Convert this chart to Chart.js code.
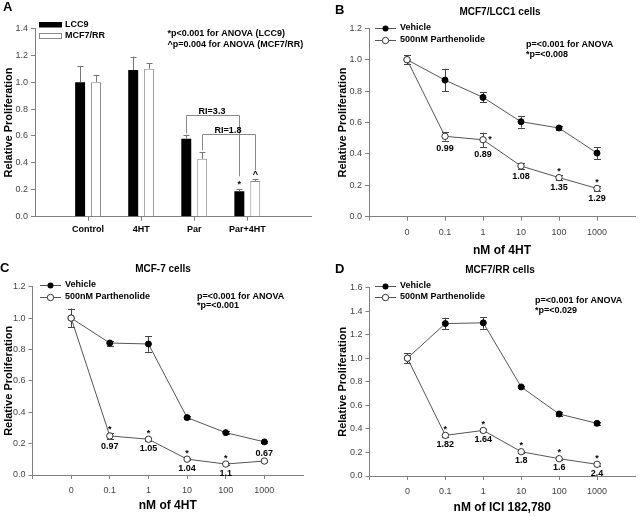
<!DOCTYPE html>
<html><head><meta charset="utf-8">
<script src="https://cdn.jsdelivr.net/npm/chart.js@4.4.1/dist/chart.umd.min.js"></script>
<style>
html,body{margin:0;padding:0;background:#fff;}
#wrap{position:relative;width:640px;height:517px;overflow:hidden;background:#fff;}
canvas{position:absolute;left:0;top:0;}
</style></head><body>
<div id="wrap">
<canvas id="cA" width="640" height="517"></canvas>
<canvas id="cB" width="640" height="517"></canvas>
<canvas id="cC" width="640" height="517"></canvas>
<canvas id="cD" width="640" height="517"></canvas>
</div>
<script>
// ---------------- data ----------------
const catsA = ['Control', '4HT', 'Par', 'Par+4HT'];
const seriesA = ['LCC9', 'MCF7/RR'];
const lcc9 = [1.00, 1.09, 0.58, 0.19];
const lcc9Err = [0.12, 0.10, 0.03, 0.013];
const mcf7rr = [1.00, 1.10, 0.43, 0.265];
const mcf7rrErr = [0.05, 0.04, 0.05, 0.013];
const sigLcc9 = ['', '', '', '*'];
const sigMcf7rr = ['', '', '', '^'];
const riLabels = ['RI=3.3', 'RI=1.8'];
const notesA = ['*p<0.001 for ANOVA (LCC9)', '^p=0.004 for ANOVA (MCF7/RR)'];

const doses = ['0', '0.1', '1', '10', '100', '1000'];
const seriesLines = ['Vehicle', '500nM Parthenolide'];
const xTitles = ['nM of 4HT', 'nM of 4HT', 'nM of ICI 182,780'];
const panelTitles = ['MCF7/LCC1 cells', 'MCF-7 cells', 'MCF7/RR cells'];

const vehB = [1.00, 0.87, 0.76, 0.605, 0.565, 0.405];
const vehBErr = [0.03, 0.072, 0.032, 0.037, 0.01, 0.038];
const parB = [1.00, 0.512, 0.49, 0.323, 0.249, 0.18];
const parBErr = [0.03, 0.027, 0.045, 0.02, 0.015, 0.014];
const ratioB = ['', '0.99', '0.89', '1.08', '1.35', '1.29'];
const starB = [0, 0, 1, 0, 1, 1];
const notesB = ['p=<0.001 for ANOVA', '*p=<0.008'];

const vehC = [1.00, 0.841, 0.835, 0.366, 0.27, 0.211];
const vehCErr = [0.06, 0.016, 0.05, 0.008, 0.008, 0.008];
const parC = [1.00, 0.249, 0.228, 0.101, 0.07, 0.089];
const parCErr = [0.06, 0.02, 0.01, 0.008, 0.008, 0.008];
const ratioC = ['', '0.97', '1.05', '1.04', '1.1', '0.67'];
const starC = [0, 1, 1, 1, 1, 0];
const notesC = ['p=<0.001 for ANOVA', '*p=<0.001'];

const vehD = [1.00, 1.294, 1.30, 0.756, 0.526, 0.447];
const vehDErr = [0.04, 0.05, 0.05, 0.012, 0.02, 0.015];
const parD = [1.00, 0.345, 0.387, 0.206, 0.147, 0.099];
const parDErr = [0.04, 0.01, 0.01, 0.01, 0.01, 0.01];
const ratioD = ['', '1.82', '1.64', '1.8', '1.6', '2.4'];
const starD = [0, 1, 1, 1, 1, 1];
const notesD = ['p=<0.001 for ANOVA', '*p=<0.029'];

// ---------------- setup ----------------
const FONT = "'Liberation Sans', Arial, Helvetica, sans-serif";
Chart.defaults.font.family = FONT;
Chart.defaults.animation = false;
Chart.defaults.plugins.legend.display = false;
Chart.defaults.plugins.tooltip.enabled = false;
const AXIS = '#808080';
const TICKTXT = '#444';
const LINE = '#555';
const YT_SIZE = 11, XT_SIZE = 12, TICK_SIZE = 9;

function text(ctx, s, x, y, o = {}) {
  ctx.save();
  ctx.font = (o.weight || 'bold') + ' ' + (o.size || 9) + 'px ' + FONT;
  ctx.fillStyle = o.color || '#000';
  ctx.textAlign = o.align || 'left';
  ctx.textBaseline = o.baseline || 'middle';
  ctx.fillText(s, x, y);
  ctx.restore();
}
function glyph(ctx, s, x, cy) { // visually centre * or ^ at cy
  text(ctx, s, x, cy + 5, { align: 'center', baseline: 'alphabetic' });
}
function vline(ctx, x, y1, y2) { ctx.beginPath(); ctx.moveTo(x, y1); ctx.lineTo(x, y2); ctx.stroke(); }
function hline(ctx, x1, x2, y) { ctx.beginPath(); ctx.moveTo(x1, y); ctx.lineTo(x2, y); ctx.stroke(); }

function drawErrors(chart, upOnly, color, cap) {
  const ctx = chart.ctx, ys = chart.scales.y;
  ctx.save();
  ctx.strokeStyle = color; ctx.lineWidth = 1;
  chart.data.datasets.forEach((ds, d) => {
    if (!ds.errors) return;
    const meta = chart.getDatasetMeta(d);
    meta.data.forEach((el, i) => {
      const v = ds.data[i].y, e = ds.errors[i];
      const x = Math.round(el.x) + 0.5;
      const top = ys.getPixelForValue(v + e);
      const bot = upOnly ? el.y : ys.getPixelForValue(v - e);
      vline(ctx, x, top, bot);
      hline(ctx, x - cap, x + cap, Math.round(top) + 0.5);
      if (!upOnly) hline(ctx, x - cap, x + cap, Math.round(bot) + 0.5);
    });
  });
  ctx.restore();
}

function geom(area, ytitleX, xtitleY) {
  const yW = area.l - (ytitleX - YT_SIZE * 0.6);
  const xH = xtitleY ? (xtitleY - area.b + XT_SIZE * 0.6) : 24;
  return { yW, xH, padding: { left: area.l - yW, top: area.t, right: 640 - area.r, bottom: 517 - area.b - xH } };
}

function yAxis(ymax, yW) {
  return {
    type: 'linear', min: 0, max: ymax,
    afterBuildTicks: s => { const t = []; const n = Math.round(ymax / 0.2); for (let k = 0; k <= n; k++) t.push({ value: +(k * 0.2).toFixed(1) }); s.ticks = t; },
    ticks: { font: { size: TICK_SIZE }, color: TICKTXT, padding: 3, callback: v => Number(v).toFixed(1) },
    grid: { drawOnChartArea: false, drawTicks: true, tickLength: 4, color: AXIS, lineWidth: 1 },
    border: { display: true, color: AXIS, width: 1 },
    title: { display: true, text: 'Relative Proliferation', color: '#000', font: { size: YT_SIZE, weight: 'bold' }, padding: 0 },
    afterFit: s => { s.width = yW; }
  };
}

// ---------------- Panel A ----------------
(function () {
  const area = { l: 35, t: 28.3, r: 311, b: 216.7 };
  const g = geom(area, 9, null);
  const brackets = [
    { from: [0, 2], to: [0, 3], top: 0.755, fromEnd: 0.62, toEnd: 0.30, label: riLabels[0] },
    { from: [1, 2], to: [1, 3], top: 0.614, fromEnd: 0.495, toEnd: 0.345, label: riLabels[1] }
  ];
  const deco = {
    id: 'decoA',
    afterDatasetsDraw(chart) {
      const ctx = chart.ctx, ys = chart.scales.y;
      drawErrors(chart, true, '#777', 3);
      [[0, sigLcc9, lcc9, lcc9Err], [1, sigMcf7rr, mcf7rr, mcf7rrErr]].forEach(([d, sig, vals, errs]) => {
        const meta = chart.getDatasetMeta(d);
        sig.forEach((s, i) => {
          if (!s) return;
          glyph(ctx, s, meta.data[i].x, ys.getPixelForValue(vals[i] + errs[i]) - 7);
        });
      });
      ctx.save(); ctx.strokeStyle = '#888'; ctx.lineWidth = 1;
      brackets.forEach(b => {
        const x1 = Math.round(chart.getDatasetMeta(b.from[0]).data[b.from[1]].x) + 0.5;
        const x2 = Math.round(chart.getDatasetMeta(b.to[0]).data[b.to[1]].x) + 0.5;
        const yt = Math.round(ys.getPixelForValue(b.top)) + 0.5;
        ctx.beginPath();
        ctx.moveTo(x1, ys.getPixelForValue(b.fromEnd));
        ctx.lineTo(x1, yt); ctx.lineTo(x2, yt);
        ctx.lineTo(x2, ys.getPixelForValue(b.toEnd));
        ctx.stroke();
        text(ctx, b.label, (x1 + x2) / 2 - 1, yt - 2, { align: 'center', baseline: 'alphabetic' });
      });
      ctx.restore();
    },
    afterDraw(chart) {
      const ctx = chart.ctx;
      text(ctx, 'A', 3, 7.5, { size: 13 });
      ctx.save();
      ctx.fillStyle = '#000'; ctx.fillRect(39, 22, 23, 5.5);
      ctx.fillStyle = '#fff'; ctx.strokeStyle = '#8c8c8c'; ctx.lineWidth = 1;
      ctx.fillRect(39.5, 33.5, 22, 5); ctx.strokeRect(39.5, 33.5, 22, 5);
      ctx.restore();
      text(ctx, seriesA[0], 65, 24.5);
      text(ctx, seriesA[1], 65, 36);
      text(ctx, notesA[0], 167.5, 33.3);
      text(ctx, notesA[1], 167.5, 45);
    }
  };
  new Chart(document.getElementById('cA'), {
    type: 'bar',
    data: {
      datasets: [
        { label: seriesA[0], data: lcc9.map((v, i) => ({ x: i + 1, y: v })), errors: lcc9Err,
          backgroundColor: '#000', borderWidth: 0, categoryPercentage: 0.6, barPercentage: 0.625 },
        { label: seriesA[1], data: mcf7rr.map((v, i) => ({ x: i + 1, y: v })), errors: mcf7rrErr,
          backgroundColor: '#fff', borderColor: '#8c8c8c', borderWidth: 1, categoryPercentage: 0.6, barPercentage: 0.625 }
      ]
    },
    options: {
      responsive: false, layout: { padding: g.padding },
      scales: {
        x: {
          type: 'linear', min: 0, max: 5.2, offset: false,
          afterBuildTicks: s => { s.ticks = catsA.map((c, i) => ({ value: i + 1 })); },
          ticks: { font: { size: 9, weight: 'bold' }, color: '#000', padding: 3.2, autoSkip: false, maxRotation: 0,
                   callback: v => catsA[v - 1] },
          grid: { drawOnChartArea: false, tickLength: 4, color: AXIS, offset: false },
          border: { color: AXIS },
          afterFit: s => { s.height = g.xH; }
        },
        y: yAxis(1.4, g.yW)
      }
    },
    plugins: [deco]
  });
})();

// ---------------- Line panels ----------------
function linePanel(p) {
  const g = geom(p.area, p.ytitleX, p.xtitleY);
  const deco = {
    id: 'deco' + p.key,
    beforeDatasetsDraw(chart) { drawErrors(chart, false, '#444', 3.5); },
    afterDatasetsDraw(chart) {
      const ctx = chart.ctx, ys = chart.scales.y;
      const meta = chart.getDatasetMeta(1);
      p.ratios.forEach((r, i) => {
        const el = meta.data[i];
        const v = p.par[i], e = p.parErr[i];
        const errB = ys.getPixelForValue(v - e), errT = ys.getPixelForValue(v + e);
        if (r) {
          const y = p.ratioAbove.includes(i) ? el.y - 8 : Math.max(el.y + 9, errB + 7.5);
          text(ctx, r, el.x, y, { align: 'center' });
        }
        if (p.stars[i]) {
          if (p.starRight.includes(i)) glyph(ctx, '*', el.x + 7, el.y - 3);
          else glyph(ctx, '*', el.x, Math.min(el.y - 8.5, errT - 6));
        }
      });
    },
    afterDraw(chart) {
      const ctx = chart.ctx;
      text(ctx, p.letter, p.letterPos[0], p.letterPos[1], { size: 13 });
      text(ctx, p.title, p.titlePos[0], p.titlePos[1], { size: 10, align: 'center' });
      p.notes.forEach((n, k) => text(ctx, n, p.notePos[0], p.notePos[1][k]));
      ctx.save();
      p.legY.forEach((y, k) => {
        ctx.strokeStyle = LINE; ctx.lineWidth = 1;
        hline(ctx, p.legX[0], p.legX[1], Math.round(y) + 0.5);
        ctx.beginPath();
        ctx.arc(p.legX[2], Math.round(y) + 0.5, k === 0 ? 3 : 3.2, 0, Math.PI * 2);
        if (k === 0) { ctx.fillStyle = '#000'; ctx.fill(); }
        else { ctx.fillStyle = '#fff'; ctx.fill(); ctx.strokeStyle = '#333'; ctx.stroke(); }
        text(ctx, seriesLines[k], p.legX[3], y);
      });
      ctx.restore();
    }
  };
  new Chart(document.getElementById(p.canvas), {
    type: 'line',
    data: {
      datasets: [
        { label: seriesLines[0], data: p.veh.map((v, i) => ({ x: i, y: v })), errors: p.vehErr,
          borderColor: LINE, borderWidth: 1, pointRadius: 3, pointBackgroundColor: '#000', pointBorderColor: '#000',
          pointBorderWidth: 1, fill: false, tension: 0, order: 1 },
        { label: seriesLines[1], data: p.par.map((v, i) => ({ x: i, y: v })), errors: p.parErr,
          borderColor: LINE, borderWidth: 1, pointRadius: 3.2, pointBackgroundColor: '#fff', pointBorderColor: '#333',
          pointBorderWidth: 1, fill: false, tension: 0, order: 0 }
      ]
    },
    options: {
      responsive: false, layout: { padding: g.padding },
      scales: {
        x: {
          type: 'linear', min: -1, max: 6, offset: false,
          afterBuildTicks: s => { s.ticks = [-1, 0, 1, 2, 3, 4, 5].map(v => ({ value: v })); },
          ticks: { font: { size: TICK_SIZE }, color: TICKTXT, padding: 6.2, autoSkip: false, maxRotation: 0,
                   callback: v => (v >= 0 && v < doses.length) ? doses[v] : '' },
          grid: { drawOnChartArea: false, tickLength: 4, color: AXIS, offset: false },
          border: { color: AXIS },
          title: { display: true, text: p.xtitle, color: '#000', font: { size: XT_SIZE, weight: 'bold' }, padding: 0 },
          afterFit: s => { s.height = g.xH; }
        },
        y: yAxis(p.ymax, g.yW)
      }
    },
    plugins: [deco]
  });
}

linePanel({
  key: 'B', canvas: 'cB', area: { l: 369, t: 28.3, r: 640, b: 216.7 }, ytitleX: 342.5, xtitleY: 250.5,
  ymax: 1.2, veh: vehB, vehErr: vehBErr, par: parB, parErr: parBErr, ratios: ratioB, stars: starB,
  ratioAbove: [], starRight: [2], xtitle: xTitles[0], title: panelTitles[0],
  letter: 'B', letterPos: [335, 10.5], titlePos: [500, 12], notes: notesB, notePos: [526, [45, 54.3]],
  legY: [27.5, 40], legX: [375, 396, 385.5, 400]
});
linePanel({
  key: 'C', canvas: 'cC', area: { l: 32.5, t: 286.7, r: 303, b: 475 }, ytitleX: 9, xtitleY: 506,
  ymax: 1.2, veh: vehC, vehErr: vehCErr, par: parC, parErr: parCErr, ratios: ratioC, stars: starC,
  ratioAbove: [5], starRight: [], xtitle: xTitles[1], title: panelTitles[1],
  letter: 'C', letterPos: [0, 268.5], titlePos: [163, 269], notes: notesC, notePos: [197, [296.7, 305.5]],
  legY: [285, 297], legX: [40, 61, 50.5, 65]
});
linePanel({
  key: 'D', canvas: 'cD', area: { l: 369.5, t: 287.5, r: 640, b: 476 }, ytitleX: 342.5, xtitleY: 508,
  ymax: 1.6, veh: vehD, vehErr: vehDErr, par: parD, parErr: parDErr, ratios: ratioD, stars: starD,
  ratioAbove: [], starRight: [], xtitle: xTitles[2], title: panelTitles[2],
  letter: 'D', letterPos: [335, 269], titlePos: [500, 270], notes: notesD, notePos: [535, [300.7, 310.7]],
  legY: [285.5, 297], legX: [375, 396, 385.5, 400]
});
</script>
</body></html>
